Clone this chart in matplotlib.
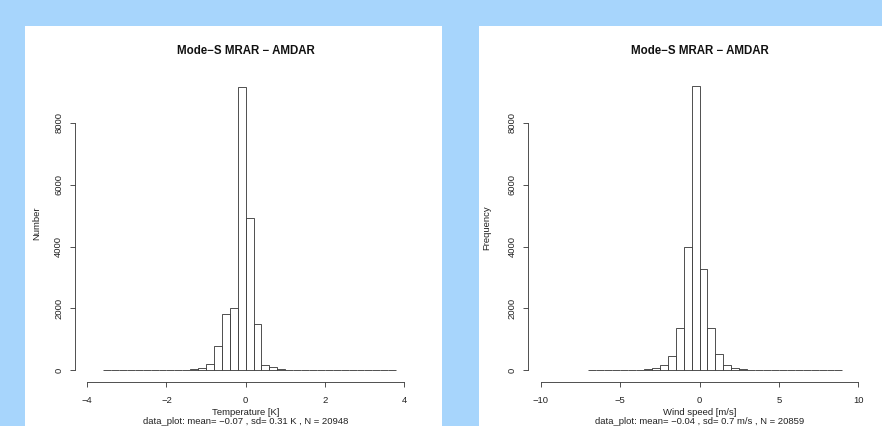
import numpy as np
import matplotlib
matplotlib.use("Agg")
import matplotlib.pyplot as plt
from matplotlib.patches import Rectangle

plt.rcParams['font.family'] = ['Liberation Sans', 'DejaVu Sans']

# ---------------- data ----------------
temp_edges_start = -3.6
temp_bin_width = 0.2
temp_counts = [1, 0, 1, 0, 1, 2, 1, 3,
               6, 10, 18, 40, 90, 190, 800, 1820, 2000,
               9170, 4920, 1510, 170, 120, 40,
               15, 8, 5, 3, 2, 1,
               1, 0, 1, 0, 0, 0, 0, 1]
wind_edges_start = -7.0
wind_bin_width = 0.5
wind_counts = [1, 1, 2, 3, 5, 9,
               15, 30, 75, 180, 450, 1380, 3980,
               9180, 3290, 1380, 530, 185, 80, 35,
               18, 10, 6, 4, 3, 2, 1, 1, 1, 0, 0, 1]

title = "Mode\u2212S MRAR \u2212 AMDAR"
temp_xlabel = "Temperature [K]"
wind_xlabel = "Wind speed [m/s]"
temp_ylabel = "Number"
wind_ylabel = "Frequency"
temp_sub = "data_plot: mean= \u22120.07 , sd= 0.31 K , N = 20948"
wind_sub = "data_plot: mean= \u22120.04 , sd= 0.7 m/s , N = 20859"
temp_xticks = [-4, -2, 0, 2, 4]
wind_xticks = [-10, -5, 0, 5, 10]
yticks = [0, 2000, 4000, 6000, 8000]

# ---------------- layout ----------------
W, H = 882, 426
BG = '#a7d5fc'
LC = '#333333'
FS = 6.8

fig = plt.figure(figsize=(W / 100, H / 100), dpi=100)
fig.patch.set_facecolor(BG)

# white panels (behind axes)
fig.patches.append(Rectangle((25 / W, 0), (442 - 25) / W, (H - 26) / H,
                             transform=fig.transFigure, facecolor='white',
                             edgecolor='none', zorder=-10))
fig.patches.append(Rectangle((479 / W, 0), (W - 479) / W, (H - 26) / H,
                             transform=fig.transFigure, facecolor='white',
                             edgecolor='none', zorder=-10))


def px(x, y):
    return x / W, 1 - y / H


def make_panel(left_px, right_px, counts, start, width, xlim, xticks,
               xlabel, ylabel, ylabel_pos, sub, center_x):
    top_px, bot_px = 74.3, 381.7
    ax = fig.add_axes([left_px / W, 1 - bot_px / H,
                       (right_px - left_px) / W, (bot_px - top_px) / H])
    ax.set_zorder(5)
    ax.set_facecolor('none')
    n = len(counts)
    edges = start + width * np.arange(n + 1)
    ax.bar(edges[:-1], counts, width=width, align='edge',
           facecolor='white', edgecolor=LC, linewidth=0.6)
    ax.set_xlim(*xlim)
    ax.set_ylim(-368, 9568)
    for s in ['top', 'right']:
        ax.spines[s].set_visible(False)
    for s in ['left', 'bottom']:
        ax.spines[s].set_color(LC)
        ax.spines[s].set_linewidth(0.6)
    ax.spines['left'].set_bounds(0, 8000)
    ax.spines['bottom'].set_bounds(xticks[0], xticks[-1])
    ax.set_xticks(xticks)
    ax.set_yticks(yticks)
    ax.tick_params(axis='both', length=5 * 0.72, width=0.6, color=LC,
                   labelsize=FS, labelcolor='#222222')
    ax.tick_params(axis='x', pad=6.8)
    ax.tick_params(axis='y', pad=4.6, labelrotation=90)
    for lab in ax.get_yticklabels():
        lab.set_va('center')
    # texts
    fig.text(*px(center_x, 50.7), title, ha='center', va='center',
             fontsize=8.3, fontweight='bold', color='#111111', zorder=6)
    fig.text(*px(center_x, 415.0), xlabel, ha='center', va='baseline',
             fontsize=FS, color='#222222', zorder=6)
    fig.text(*px(center_x, 425.6), sub, ha='center', va='bottom',
             fontsize=FS, color='#222222', zorder=6)
    fig.text(*px(*ylabel_pos), ylabel, ha='center', va='center',
             rotation=90, fontsize=FS, color='#222222', zorder=6)
    return ax


make_panel(74.6, 416.7, temp_counts, temp_edges_start, temp_bin_width,
           (-4.32, 4.32), temp_xticks, temp_xlabel, temp_ylabel,
           (36.7, 223), temp_sub, 245.7)
make_panel(528.0, 871.0, wind_counts, wind_edges_start, wind_bin_width,
           (-10.8, 10.8), wind_xticks, wind_xlabel, wind_ylabel,
           (486.7, 228), wind_sub, 699.5)

fig.savefig('out.png', dpi=100, facecolor=BG)
